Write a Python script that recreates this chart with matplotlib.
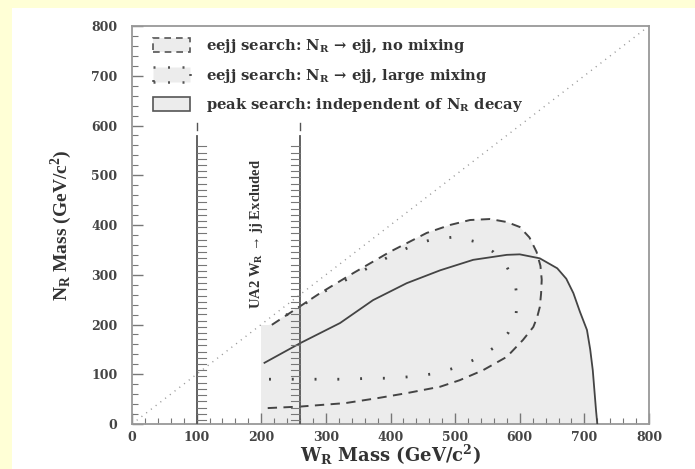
import numpy as np
import matplotlib
matplotlib.use("Agg")
from matplotlib import pyplot as plt
from matplotlib.patches import Patch, Rectangle

# horizontal text in a wide bold serif, vertical text in a narrower one
plt.rcParams['font.family'] = 'DejaVu Serif'
plt.rcParams['font.weight'] = 'bold'
plt.rcParams['mathtext.fontset'] = 'custom'
plt.rcParams['mathtext.rm'] = 'DejaVu Serif:bold'
plt.rcParams['mathtext.bf'] = 'DejaVu Serif:bold'
plt.rcParams['mathtext.sf'] = 'Liberation Serif:bold'
plt.rcParams['mathtext.it'] = 'DejaVu Serif:bold:italic'

# peak search limit (solid)
peak_x = [205, 261, 290, 322, 373, 425, 477, 528, 580, 600, 631, 658, 672, 683, 693, 704,
          709, 713, 716, 718, 720]
peak_y = [123, 163, 182, 203, 249, 283, 309, 330, 340, 341, 333, 313, 292, 263, 226, 189,
          150, 108, 60, 28, 0]

# eejj, no mixing (dashed closed contour, from lower-left round to upper-left)
nomix_x = [210, 260, 330, 380, 425, 477, 507, 543, 580, 605, 621, 627, 631, 633, 634, 632,
           626, 615, 600, 580, 554, 523, 492, 456, 399, 342, 291, 250, 209]
nomix_y = [32, 35, 42, 52, 62, 75, 88, 108, 135, 169, 195, 215, 235, 262, 290, 318,
           346, 375, 396, 406, 412, 410, 400, 384, 346, 303, 263, 228, 193]

# eejj, large mixing (dotted closed contour)
mix_x = [212, 241, 275, 306, 334, 368, 402, 438, 472, 505, 536, 562, 582, 594, 596, 593,
         580, 559, 533, 500, 464, 433, 400, 350, 300, 260, 215]
mix_y = [90, 90, 90, 90, 90, 92, 92, 96, 102, 115, 133, 155, 183, 215, 251, 283,
         316, 346, 366, 376, 371, 358, 338, 303, 268, 236, 200]

ua2_lo, ua2_hi = 100, 260
labels = ["eejj search: N$_{\\mathrm{R}}$ → ejj, no mixing",
          "eejj search: N$_{\\mathrm{R}}$ → ejj, large mixing",
          "peak search: independent of N$_{\\mathrm{R}}$ decay"]

shade = '#ececec'
ink = '#444444'
txt = '#333333'

fig = plt.figure(figsize=(6.95, 4.69), dpi=100)
fig.patch.set_facecolor('#ffffd6')
fig.patches.append(Rectangle((12 / 695, 0), 1, (469 - 8) / 469, transform=fig.transFigure,
                             facecolor='white', edgecolor='none', zorder=-5))
ax = fig.add_axes([132 / 695, 45 / 469, 517 / 695, 398 / 469])
ax.set_facecolor('none')

# shaded excluded regions (union of the three areas)
ax.fill([200] + peak_x, [0] + peak_y, color=shade, lw=0, zorder=1)
ax.fill([200] + nomix_x + [200], [30] + nomix_y + [190], color=shade, lw=0, zorder=1)
ax.fill([200] + mix_x + [200], [88] + mix_y + [196], color=shade, lw=0, zorder=1)
ax.fill([200, 200, 215, 215], [0, 200, 200, 0], color=shade, lw=0, zorder=1)

# contours
ax.plot(peak_x, peak_y, color=ink, lw=1.3, zorder=3)
ax.plot(nomix_x, nomix_y, color=ink, lw=1.4, dashes=(4.8, 3.3), zorder=3)
ax.plot(mix_x, mix_y, color=ink, lw=2.0, dashes=(0.7, 7.5), zorder=3)

# kinematic limit N_R = W_R
ax.plot([0, 800], [0, 800], color='#999999', lw=1.0, dashes=(0.8, 3.5), zorder=2)

# UA2 excluded band with hatch marks
for xv, side in [(ua2_lo, 1), (ua2_hi, -1)]:
    ax.plot([xv, xv], [0, 578], color='#555555', lw=1.3, zorder=3)
    ax.plot([xv, xv], [590, 605], color='#555555', lw=1.0, zorder=3)
    for yv in np.arange(8, 560, 12.5):
        ax.plot([xv, xv + side * 14], [yv, yv], color='#777777', lw=0.8, zorder=3)
ax.text(192, 382, "UA2 W$_{\\mathsf{R}}$ → jj Excluded", rotation=90,
        ha='center', va='center', fontsize=10.5, family='Liberation Serif', color=txt, zorder=4)

handles = [Patch(facecolor=shade, edgecolor='#555555', linestyle=(0, (4, 3)), lw=1.2),
           Patch(facecolor=shade, edgecolor='#555555', linestyle=(0, (0.8, 5)), lw=1.8),
           Patch(facecolor=shade, edgecolor='#555555', lw=1.2)]
leg = ax.legend(handles, labels, loc='upper left', bbox_to_anchor=(0.02, 1.0), frameon=False,
                fontsize=10.6, handlelength=2.5, handleheight=1.1, labelspacing=0.78,
                handletextpad=1.1, borderaxespad=0.35)
for t in leg.get_texts():
    t.set_color(txt)

ax.set_xlim(0, 800)
ax.set_ylim(0, 800)
ax.set_xticks(np.arange(0, 801, 100))
ax.set_yticks(np.arange(0, 801, 100))
ax.set_xticks(np.arange(0, 801, 20), minor=True)
ax.set_yticks(np.arange(0, 801, 20), minor=True)
ax.tick_params(which='both', direction='in', top=False, right=False, colors='#777777',
               labelcolor='#444444', labelsize=9)
ax.tick_params(which='major', length=8, width=1.0)
ax.tick_params(which='minor', length=4, width=0.8)
ax.tick_params(axis='y', which='major', pad=10.5)
ax.tick_params(axis='x', which='major', pad=5)
for s in ax.spines.values():
    s.set_color('#999999')
    s.set_linewidth(1.3)

ax.set_xlabel("W$_{\\mathrm{R}}$ Mass (GeV/c$^{\\mathrm{2}}$)", fontsize=13, color=txt,
              fontweight='bold', labelpad=-1)
ax.set_ylabel("N$_{\\mathsf{R}}$ Mass (GeV/c$^{\\mathsf{2}}$)", fontsize=14, color=txt,
              family='Liberation Serif', fontweight='bold', labelpad=12)

fig.savefig("out.png", dpi=100, facecolor=fig.get_facecolor())
